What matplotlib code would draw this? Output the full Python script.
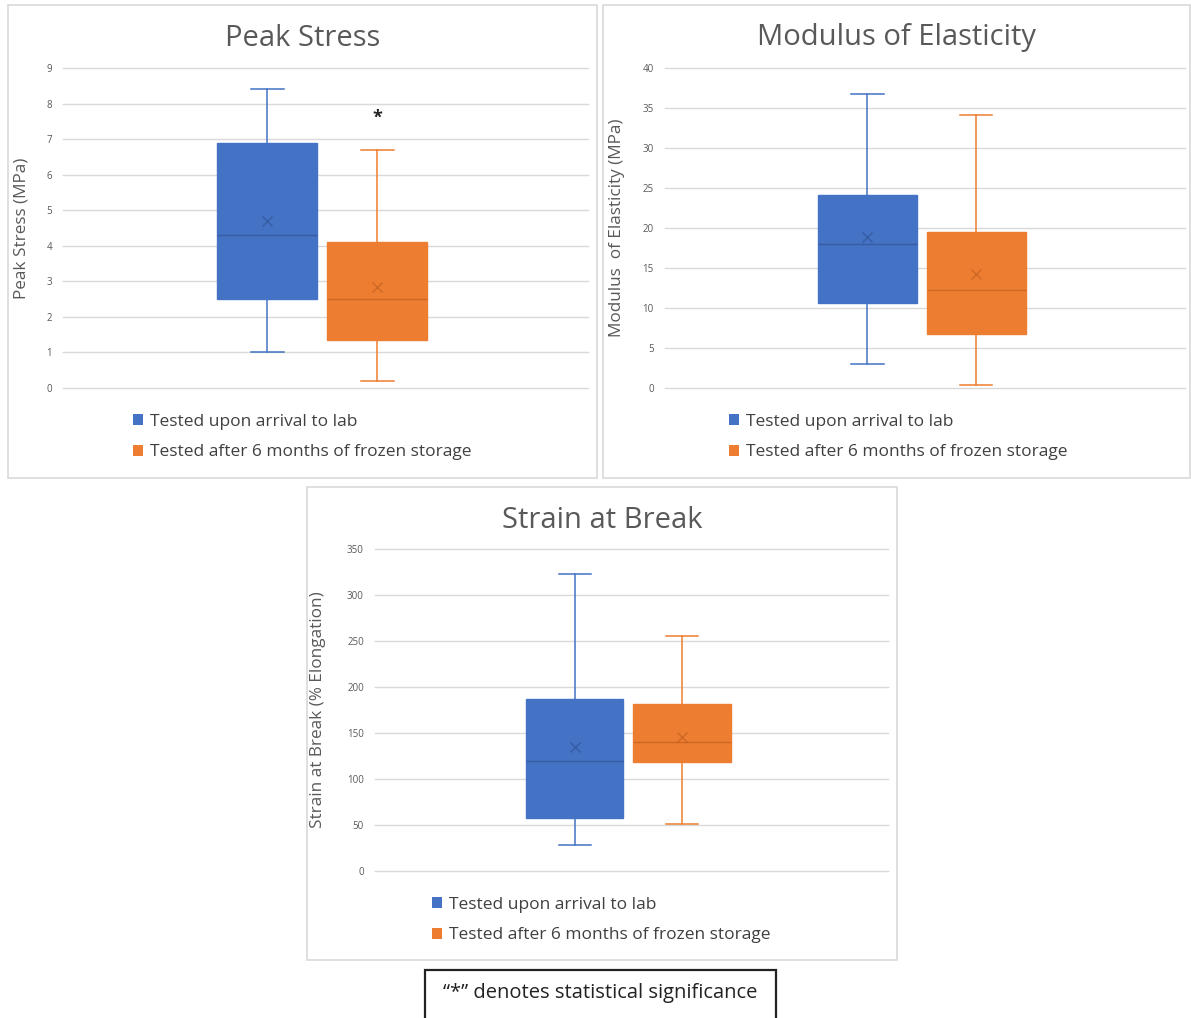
import matplotlib.pyplot as plt
from matplotlib.patches import Rectangle, Patch

plt.rcParams["font.family"] = ["Open Sans", "DejaVu Sans"]

BLUE = "#4472C4"
ORANGE = "#ED7D31"
GRID = "#D9D9D9"
TXT = "#595959"

groups = ["Tested upon arrival to lab", "Tested after 6 months of frozen storage"]

# box stats: whisker low, q1, median, q3, whisker high, mean
peak_stress = [
    dict(whislo=1.0, q1=2.5, med=4.3, q3=6.9, whishi=8.4, mean=4.7),
    dict(whislo=0.2, q1=1.35, med=2.5, q3=4.1, whishi=6.7, mean=2.85),
]
modulus = [
    dict(whislo=3.0, q1=10.6, med=18.0, q3=24.1, whishi=36.8, mean=18.9),
    dict(whislo=0.4, q1=6.7, med=12.3, q3=19.5, whishi=34.1, mean=14.2),
]
strain = [
    dict(whislo=28, q1=58, med=120, q3=187, whishi=323, mean=135),
    dict(whislo=51, q1=119, med=140, q3=182, whishi=255, mean=146),
]

W, H = 1191, 1018
fig = plt.figure(figsize=(W / 100, H / 100), dpi=100)


def px_rect(x0, y0, x1, y1):
    # pixel box (top-left origin) -> figure fraction rect
    return [x0 / W, 1 - y1 / H, (x1 - x0) / W, (y1 - y0) / H]


def panel(frame, axbox, stats, title, ylabel, ymax, ystep, legend_xy, ylabel_x, star=None):
    fig.add_artist(Rectangle((frame[0] / W, 1 - frame[3] / H),
                             (frame[2] - frame[0]) / W, (frame[3] - frame[1]) / H,
                             transform=fig.transFigure, fill=False,
                             edgecolor=GRID, lw=1.2))
    ax = fig.add_axes(px_rect(*axbox))
    for st, lab in zip(stats, groups):
        st["label"] = lab
    for i, (st, c) in enumerate(zip(stats, [BLUE, ORANGE])):
        dark = "#2E4F8C" if i == 0 else "#B85A1E"
        ax.bxp([st], positions=[i + 1], widths=0.91, patch_artist=True,
               showmeans=True, showfliers=False,
               boxprops=dict(facecolor=c, edgecolor=c, lw=1),
               medianprops=dict(color=dark, lw=1, alpha=0.6),
               whiskerprops=dict(color=c, lw=1.1),
               capprops=dict(color=c, lw=1.1),
               capwidths=0.3,
               meanprops=dict(marker="x", markeredgecolor=dark,
                              markersize=7, markeredgewidth=1, alpha=0.6))
    ax.set_xlim(1.53 - 2.39, 1.53 + 2.39)
    ax.set_ylim(0, ymax)
    ax.set_yticks(range(0, ymax + 1, ystep))
    ax.set_xticks([])
    ax.yaxis.grid(True, color=GRID, lw=1)
    for gl in ax.get_ygridlines():
        gl.set_clip_on(False)
    ax.set_axisbelow(True)
    for s in ax.spines.values():
        s.set_visible(False)
    ax.tick_params(axis="y", length=0, labelsize=7, labelcolor=TXT, pad=8)
    ax.set_ylabel(ylabel, fontsize=12.3, color=TXT)
    ax.yaxis.set_label_coords((ylabel_x - axbox[0]) / (axbox[2] - axbox[0]), 0.5)
    cx = (frame[0] + frame[2]) / 2
    fig.text(cx / W, 1 - (frame[1] + 33) / H, title, ha="center", va="center",
             fontsize=21, color=TXT)
    if star is not None:
        ax.text(2, star, "*", ha="center", va="center", fontsize=13, fontweight="bold", color="#222222")
    handles = [Patch(facecolor=BLUE), Patch(facecolor=ORANGE)]
    fig.legend(handles, groups, loc="upper left",
               bbox_to_anchor=(legend_xy[0] / W, 1 - legend_xy[1] / H),
               frameon=False, fontsize=12.5, labelcolor="#404040",
               handlelength=0.6, handleheight=0.6, handletextpad=0.4,
               labelspacing=0.82, borderpad=0, borderaxespad=0)
    return ax


panel((8, 5, 597, 478), (63, 68, 588, 388), peak_stress, "Peak Stress",
      "Peak Stress (MPa)", 9, 1, (133, 414), 30, star=7.6)
panel((603, 5, 1190, 478), (665, 68, 1185, 388), modulus, "Modulus of Elasticity",
      "Modulus  of Elasticity (MPa)", 40, 5, (729, 414), 625)
panel((307, 487, 897, 960), (375, 549, 888, 871), strain, "Strain at Break",
      "Strain at Break (% Elongation)", 350, 50, (432, 897), 326)

# footnote box
fig.add_artist(Rectangle((425 / W, 1 - 1020 / H), 351 / W, 50 / H,
                         transform=fig.transFigure, fill=False,
                         edgecolor="#222222", lw=1.6))
fig.text(600 / W, 1 - 993 / H, "\u201c*\u201d denotes statistical significance",
         ha="center", va="center", fontsize=14.5, color="#222222")

fig.savefig("out.png", dpi=100)
